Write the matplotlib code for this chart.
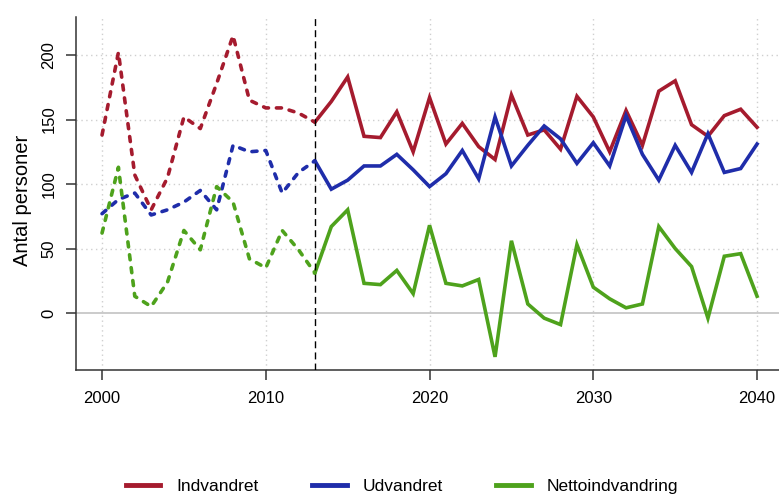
import matplotlib
matplotlib.use("Agg")
import matplotlib.pyplot as plt
from matplotlib.lines import Line2D

plt.rcParams['font.family'] = ['Liberation Sans', 'DejaVu Sans']

# ---- data ----
years_hist = list(range(2000, 2014))
ind_hist = [138, 202, 107, 80, 105, 152, 143, 178, 215, 165, 159, 159, 155, 148]
ud_hist = [77, 88, 93, 76, 80, 86, 95, 80, 130, 125, 126, 93, 109, 118]
net_hist = [62, 113, 13, 5, 24, 64, 49, 98, 86, 42, 35, 64, 49, 31]

years_fut = list(range(2013, 2041))
ind_fut = [148, 164, 183, 137, 136, 156, 125, 167, 131, 147, 129, 119, 169, 138,
           142, 127, 168, 152, 125, 157, 130, 172, 180, 146, 137, 153, 158, 144]
ud_fut = [118, 96, 103, 114, 114, 123, 111, 98, 108, 126, 104, 152, 114, 130,
          145, 135, 116, 132, 114, 153, 123, 103, 130, 109, 139, 109, 112, 131]
net_fut = [31, 67, 80, 23, 22, 33, 15, 68, 23, 21, 26, -34, 56, 7,
           -4, -9, 53, 20, 11, 4, 7, 67, 50, 36, -4, 44, 46, 13]

series_names = ["Indvandret", "Udvandret", "Nettoindvandring"]
x_ticks = [2000, 2010, 2020, 2030, 2040]
y_ticks = [0, 50, 100, 150, 200]
split_year = 2013
y_label = "Antal personer"

colors = ["#A51B2E", "#1F2DAA", "#4EA21C"]

fig = plt.figure(figsize=(7.79, 4.96), dpi=100)
ax = fig.add_axes([76 / 779, 1 - 370 / 496, (779 - 76) / 779, (370 - 17) / 496])

ax.set_xlim(1998.41, 2041.34)
ax.set_ylim(-44.2, 229.5)

# grid
for xv in x_ticks:
    ax.axvline(xv, color="#CFCFCF", lw=1.0, ls=(0, (1, 2.5)), zorder=1)
for yv in y_ticks[1:]:
    ax.axhline(yv, color="#CFCFCF", lw=1.0, ls=(0, (1, 2.5)), zorder=1)
ax.axhline(0, color="#BDBDBD", lw=1.1, zorder=1)

lw = 2.6
hist_sets = [ind_hist, ud_hist, net_hist]
fut_sets = [ind_fut, ud_fut, net_fut]
for c, h, f in zip(colors, hist_sets, fut_sets):
    ax.plot(years_hist, h, color=c, lw=lw, ls=(0, (1.4, 2.2)),
            dash_capstyle="round", zorder=3)
    ax.plot(years_fut, f, color=c, lw=lw, solid_joinstyle="miter", zorder=3)

ax.axvline(split_year, color="black", lw=1.0, ls=(0, (5, 3)), zorder=4)

for s in ["top", "right"]:
    ax.spines[s].set_visible(False)
for s in ["left", "bottom"]:
    ax.spines[s].set_color("#333333")
    ax.spines[s].set_linewidth(1.1)

ax.set_xticks(x_ticks)
ax.set_yticks(y_ticks)
ax.tick_params(axis="both", length=7, width=1.1, color="#333333",
               labelsize=12, labelcolor="black")
ax.tick_params(axis="x", pad=8)
ax.tick_params(axis="y", pad=7)
for lab in ax.get_yticklabels():
    lab.set_rotation(90)
    lab.set_va("center")

ax.set_ylabel(y_label, fontsize=14.5)
ax.yaxis.set_label_coords((32 - 76) / 703, 0.48)

handles = [Line2D([0], [0], color=c, lw=3.5) for c in colors]
fig.legend(handles, series_names, loc="center", ncol=3,
           bbox_to_anchor=(402 / 779, 1 - 486 / 496), frameon=False,
           fontsize=12.5, handlelength=2.0, handletextpad=0.9,
           columnspacing=3.1)

fig.savefig("out.png", dpi=100)
